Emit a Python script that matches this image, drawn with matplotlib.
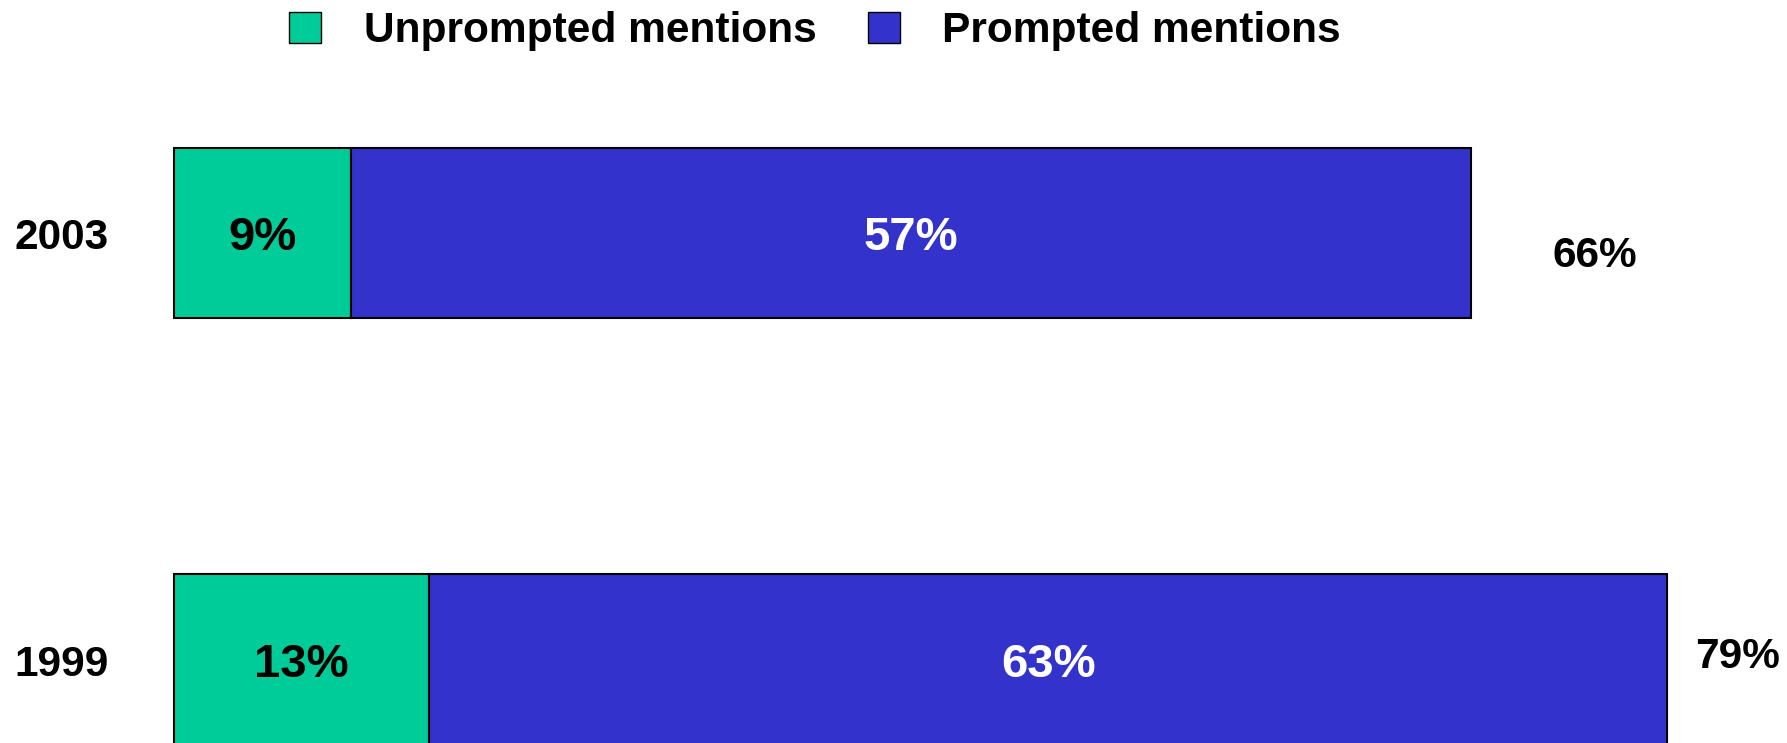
import matplotlib.pyplot as plt
from matplotlib.patches import Patch

plt.rcParams['font.family'] = ['Liberation Sans', 'DejaVu Sans']
plt.rcParams['font.weight'] = 'bold'

years      = ['2003', '1999']
unprompted = [9, 13]
prompted   = [57, 63]
totals     = [66, 79]

col_unp  = '#00CC99'
col_prm  = '#3333CC'
ypos     = [1, 0]
bar_h    = 0.40
dy       = -4.0   # digits sit a little below the box centre
# nudge of the total labels from bar end, in points
tot_off  = [(89.5, -13.0 + dy), (50.5, 6.0 + dy)]

fig = plt.figure(figsize=(17.87, 7.43), dpi=100)
ax = fig.add_axes([0, 0, 1, 1])

ax.barh(ypos, unprompted, height=bar_h, color=col_unp, edgecolor='black', linewidth=1.5)
ax.barh(ypos, prompted, left=unprompted, height=bar_h, color=col_prm, edgecolor='black', linewidth=1.5)

for i, y in enumerate(ypos):
    u, p, t = unprompted[i], prompted[i], totals[i]
    ax.annotate(f'{u}%', xy=(u / 2, y), xytext=(0, dy), textcoords='offset points',
                ha='center', va='center', fontsize=34, fontweight='bold', color='black')
    ax.annotate(f'{p}%', xy=(u + p / 2, y), xytext=(0, dy), textcoords='offset points',
                ha='center', va='center', fontsize=34, fontweight='bold', color='white')
    ax.annotate(f'{t}%', xy=(u + p, y), xytext=tot_off[i], textcoords='offset points',
                ha='center', va='center', fontsize=30.5, fontweight='bold')
    ax.annotate(years[i], xy=(-5.7, y), xytext=(0, dy), textcoords='offset points',
                ha='center', va='center', fontsize=30.5, fontweight='bold')

ax.set_xlim(-8.855, 82.09)
ax.set_ylim(-0.196, 1.546)
ax.axis('off')

handles = [Patch(facecolor=col_unp, edgecolor='black', linewidth=1.0, label='Unprompted mentions'),
           Patch(facecolor=col_prm, edgecolor='black', linewidth=1.0, label='Prompted mentions')]
fig.legend(handles=handles, loc='center', bbox_to_anchor=(815 / 1787, 1 - 31 / 743), ncol=2,
           frameon=False, fontsize=30.6, handlelength=0.76, handleheight=0.74,
           handletextpad=1.0, columnspacing=1.2, borderpad=0)

fig.savefig('out.png', dpi=100)
